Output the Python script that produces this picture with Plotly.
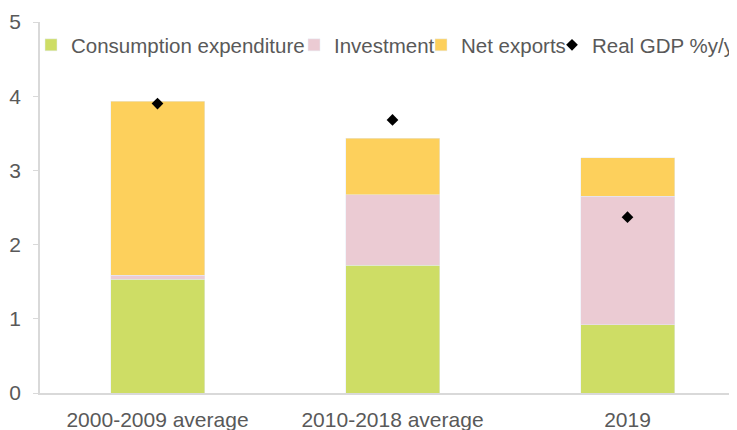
import plotly.graph_objects as go

# categories and component contributions (percentage points)
categories = ["2000-2009 average", "2010-2018 average", "2019"]
consumption = [1.53, 1.72, 0.92]
investment = [0.06, 0.95, 1.73]
net_exports = [2.34, 0.76, 0.52]
real_gdp = [3.90, 3.68, 2.37]

FONT = "Liberation Sans, Arial, sans-serif"
GREY = "#595959"
AXIS = "#d9d9d9"

fig = go.Figure()
fig.add_trace(go.Bar(x=categories, y=consumption, name="Consumption expenditure",
                     marker_color="#cedd65", legend="legend"))
fig.add_trace(go.Bar(x=categories, y=investment, name="Investment",
                     marker_color="#ebcbd3", legend="legend2"))
fig.add_trace(go.Bar(x=categories, y=net_exports, name="Net exports",
                     marker_color="#fdd05c", legend="legend3"))
fig.add_trace(go.Scatter(x=categories, y=real_gdp, name="Real GDP %y/y", mode="markers",
                         marker=dict(symbol="diamond", size=9, color="black"),
                         legend="legend4"))

# the page body adds an 8px margin, so the figure is laid out 8px up/left
W, H = 737, 430
L, T, B = 32, 14, 45
PW, PH = W - L, H - T - B
LEG_Y = (H - B - 37) / PH


def legend_at(text_x):
    # one legend per item; text starts 40px after the legend's left edge
    left = text_x - 8 - 40
    return dict(
        x=(left - L) / PW, xanchor="left",
        y=LEG_Y, yanchor="middle",
        orientation="h", bgcolor="rgba(0,0,0,0)",
        font=dict(family=FONT, size=20.5, color=GREY),
    )


fig.update_layout(
    width=W,
    height=H,
    barmode="stack",
    bargap=0.6,
    showlegend=True,
    plot_bgcolor="white",
    paper_bgcolor="white",
    margin=dict(l=L, r=0, t=T, b=B, autoexpand=False),
    font=dict(family=FONT, size=21, color=GREY),
    legend=legend_at(71),
    legend2=legend_at(334),
    legend3=legend_at(461),
    legend4=legend_at(592),
)
fig.update_xaxes(
    range=[-0.5, 2.5],
    showline=True, linecolor=AXIS, linewidth=1.5,
    ticks="", ticklabelstandoff=7,
    tickfont=dict(family=FONT, size=21, color=GREY),
)
fig.update_yaxes(
    range=[0, 5], dtick=1,
    showgrid=False, zeroline=False,
    showline=True, linecolor=AXIS, linewidth=1.5,
    ticks="outside", ticklen=5, tickcolor=AXIS, ticklabelstandoff=8,
    tickfont=dict(family=FONT, size=21, color=GREY),
)

fig.write_html("out.html")
